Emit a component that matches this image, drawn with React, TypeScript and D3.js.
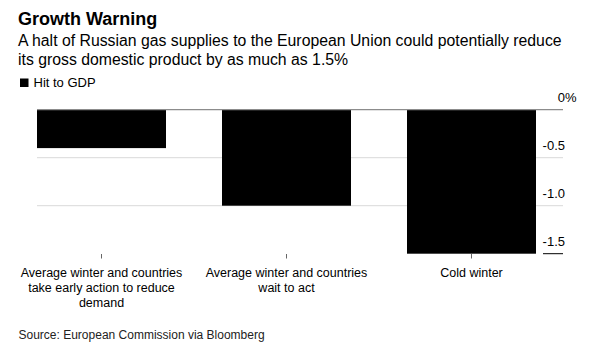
import { useEffect, useRef } from 'react'
import * as d3 from 'd3'

const categories = [
  'Average winter and countries take early action to reduce demand',
  'Average winter and countries wait to act',
  'Cold winter',
]
const categoryLines = [
  ['Average winter and countries', 'take early action to reduce', 'demand'],
  ['Average winter and countries', 'wait to act'],
  ['Cold winter'],
]
const hitToGdp = [-0.4, -1.0, -1.5]
const yTicks = [0, -0.5, -1.0, -1.5]
const yTickLabels = ['0', '-0.5', '-1.0', '-1.5']

const FONT = '"Liberation Sans", Arial, Helvetica, sans-serif'

export default function App() {
  const ref = useRef<SVGSVGElement>(null)

  useEffect(() => {
    if (!ref.current) return
    const svg = d3.select(ref.current)
    svg.selectAll('*').remove()

    const width = 600
    const height = 361
    svg.attr('width', width).attr('height', height)
      .attr('viewBox', `0 0 ${width} ${height}`)
      .style('font-family', FONT)

    svg.append('rect').attr('width', width).attr('height', height).attr('fill', '#fff')

    // Header
    svg.append('text')
      .attr('x', 18).attr('y', 25)
      .attr('font-size', '18px').attr('font-weight', 700).attr('fill', '#000')
      .text('Growth Warning')

    const sub = svg.append('text')
      .attr('x', 18).attr('font-size', '15.8px').attr('fill', '#000')
    sub.append('tspan').attr('x', 18).attr('y', 46)
      .text('A halt of Russian gas supplies to the European Union could potentially reduce')
    sub.append('tspan').attr('x', 18).attr('y', 64.5)
      .text('its gross domestic product by as much as 1.5%')

    // Legend
    svg.append('rect').attr('x', 20).attr('y', 78.5).attr('width', 8.5).attr('height', 8.5).attr('fill', '#000')
    svg.append('text')
      .attr('x', 33.5).attr('y', 87)
      .attr('font-size', '13px').attr('fill', '#000')
      .text('Hit to GDP')

    // Scales
    const x = d3.scaleBand<string>()
      .domain(categories)
      .range([37, 536])
      .paddingInner(0.3027)
      .paddingOuter(0)
    const y = d3.scaleLinear().domain([0, -1.5]).range([109.7, 253.7])

    const gridX0 = 37
    const gridX1 = 563

    // Gridlines
    yTicks.slice(1, 3).forEach(t => {
      svg.append('line')
        .attr('x1', gridX0).attr('x2', gridX1)
        .attr('y1', y(t)).attr('y2', y(t))
        .attr('stroke', '#d9d9d9').attr('stroke-width', 1)
    })

    // Bars
    svg.append('g')
      .selectAll('rect')
      .data(hitToGdp)
      .join('rect')
      .attr('x', (_, i) => x(categories[i])!)
      .attr('width', x.bandwidth())
      .attr('y', y(0))
      .attr('height', d => y(d) - y(0))
      .attr('fill', '#000')

    // Zero line
    svg.append('line')
      .attr('x1', gridX0).attr('x2', gridX1)
      .attr('y1', y(0)).attr('y2', y(0))
      .attr('stroke', '#8c8c8c').attr('stroke-width', 1.2)

    // Bottom tick rule under the last label
    svg.append('line')
      .attr('x1', 543).attr('x2', gridX1)
      .attr('y1', y(-1.5)).attr('y2', y(-1.5))
      .attr('stroke', '#000').attr('stroke-width', 1)

    // Y tick labels
    yTicks.forEach((t, i) => {
      svg.append('text')
        .attr('x', 565).attr('y', y(t) - 7.5)
        .attr('text-anchor', 'end')
        .attr('font-size', '13px').attr('fill', '#000')
        .text(yTickLabels[i])
    })
    svg.append('text')
      .attr('x', 565).attr('y', y(0) - 7.5)
      .attr('font-size', '13px').attr('fill', '#000')
      .text('%')

    // X ticks and labels
    categories.forEach((c, i) => {
      const cx = x(c)! + x.bandwidth() / 2
      svg.append('line')
        .attr('x1', cx).attr('x2', cx)
        .attr('y1', 254).attr('y2', 258.5)
        .attr('stroke', '#666').attr('stroke-width', 1)
      const t = svg.append('text')
        .attr('text-anchor', 'middle')
        .attr('font-size', '12.5px').attr('fill', '#000')
      categoryLines[i].forEach((line, j) => {
        t.append('tspan').attr('x', cx).attr('y', 276.7 + j * 15).text(line)
      })
    })

    // Source
    svg.append('text')
      .attr('x', 18.5).attr('y', 339)
      .attr('font-size', '12px').attr('fill', '#222')
      .text('Source: European Commission via Bloomberg')
  }, [])

  return (
    <div style={{ position: 'absolute', left: 0, top: 0 }}>
      <svg ref={ref} style={{ display: 'block' }} />
    </div>
  )
}
